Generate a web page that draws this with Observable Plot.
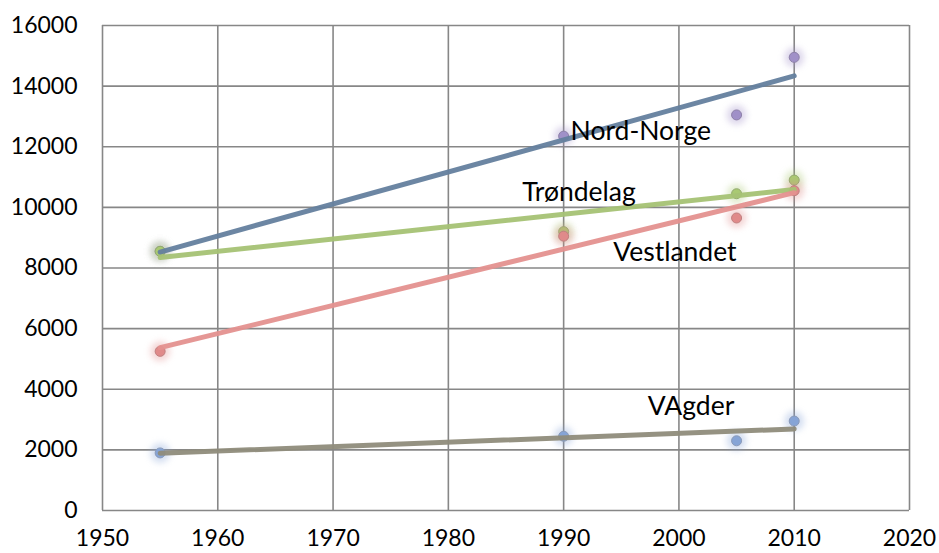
<!DOCTYPE html>
<html>
<head>
<meta charset="utf-8">
<script src="https://cdn.jsdelivr.net/npm/d3@7"></script>
<script src="https://cdn.jsdelivr.net/npm/@observablehq/plot@0.6"></script>
<style>
  html, body { margin: 0; padding: 0; background: #fff; }
  #chart { width: 939px; height: 553px; }
</style>
</head>
<body>
<div id="chart"></div>
<script>
const years = [1955, 1990, 2005, 2010];
const nordNorge = [8550, 12350, 13050, 14950];
const trondelag = [8550, 9200, 10450, 10900];
const vestlandet = [5250, 9050, 9650, 10550];
const vagder = [1900, 2450, 2300, 2950];

const seriesNames = ["Nord-Norge", "Trøndelag", "Vestlandet", "VAgder"];
const seriesValues = [nordNorge, trondelag, vestlandet, vagder];
const pointColors = ["#a090c8", "#a9c972", "#e08a8a", "#86a4d6"];
const pointStroke = ["#8d80a8", "#93aa70", "#c08080", "#8a9ab8"];
const lineColors = ["#64809e", "#a5c274", "#e4918f", "#8f8c7b"];

const labelNames = ["Nord-Norge", "Trøndelag", "Vestlandet", "VAgder"];
const labelX = [1990.6, 1986.4, 1994.3, 1997.3];
const labelY = [12500, 10490, 8500, 3430];

const xTicks = [1950, 1960, 1970, 1980, 1990, 2000, 2010, 2020];
const yTicks = [0, 2000, 4000, 6000, 8000, 10000, 12000, 14000, 16000];

const data = [];
seriesNames.forEach((s, i) => {
  years.forEach((yr, j) => data.push({series: s, year: yr, value: seriesValues[i][j]}));
});
const labels = labelNames.map((t, i) => ({text: t, x: labelX[i], y: labelY[i]}));

const marks = [
  Plot.gridX(xTicks, {stroke: "#878787", strokeOpacity: 1, strokeWidth: 1.6}),
  Plot.gridY(yTicks, {stroke: "#878787", strokeOpacity: 1, strokeWidth: 1.6}),
  Plot.axisX(xTicks, {tickSize: 0, tickPadding: 19, tickFormat: "d", fontSize: 23, fill: "#000", label: null}),
  Plot.axisY(yTicks, {tickSize: 0, tickPadding: 25, tickFormat: "d", fontSize: 23, fill: "#000", label: null})
];
seriesNames.forEach((s, i) => {
  const sub = data.filter(d => d.series === s);
  marks.push(Plot.dot(sub, {x: "year", y: "value", r: 10, fill: pointColors[i], fillOpacity: 0.35, stroke: "none", imageFilter: "blur(3px)"}));
  marks.push(Plot.dot(sub, {x: "year", y: "value", r: 5, fill: pointColors[i], stroke: pointStroke[i], strokeWidth: 1}));
});
seriesNames.forEach((s, i) => {
  const sub = data.filter(d => d.series === s);
  marks.push(Plot.linearRegressionY(sub, {x: "year", y: "value", ci: 0, stroke: lineColors[i], strokeWidth: 5, strokeOpacity: 0.95}));
});
marks.push(Plot.text(labels, {x: "x", y: "y", text: "text", textAnchor: "start", fontSize: 26.5, fill: "#000"}));

const chart = Plot.plot({
  width: 939,
  height: 553,
  marginLeft: 102,
  marginRight: 30,
  marginTop: 25,
  marginBottom: 43,
  style: {fontFamily: "Lato, 'Open Sans', sans-serif", background: "#fff", overflow: "visible"},
  x: {domain: [1950, 2020]},
  y: {domain: [0, 16000]},
  marks
});
document.getElementById("chart").appendChild(chart);
</script>
</body>
</html>
